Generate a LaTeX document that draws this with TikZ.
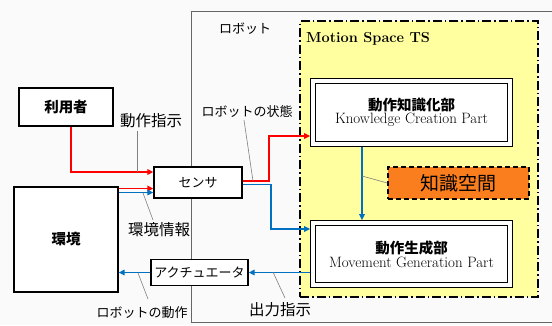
\documentclass[tikz,border=0pt]{standalone}
\usepackage{fontspec}
\newfontfamily\jp{Noto Sans CJK JP}
\usetikzlibrary{arrows.meta}
\definecolor{rd}{RGB}{255,0,0}
\definecolor{bl}{RGB}{0,112,192}
\definecolor{ylw}{RGB}{255,255,160}
\definecolor{org}{RGB}{250,125,30}
\definecolor{bg}{RGB}{250,250,250}
\begin{document}
\begin{tikzpicture}[x=1pt,y=-1pt,
 box/.style={draw=black,line width=1.3pt,fill=white,inner sep=0pt},
 dbox/.style={draw=black,line width=1.3pt,double=white,double distance=3.6pt,fill=white,inner sep=0pt,outer sep=3.1pt,align=center},
 lbl/.style={font=\jp\fontsize{13}{15}\selectfont,inner sep=0pt},
 klbl/.style={font=\jp\fontsize{15.5}{17}\selectfont,inner sep=0pt},
 ann/.style={draw=gray,line width=0.6pt},
 rarr/.style={draw=rd,line width=1.8pt,-{Triangle[length=6pt,width=5.5pt]}},
 barr/.style={draw=bl,line width=1.8pt,-{Triangle[length=6pt,width=5.5pt]}},
 jtitle/.style={font=\jp\bfseries\fontsize{14.5}{16}\selectfont},
]
\fill[bg] (0,0) rectangle (552,325);
\useasboundingbox (0,0) rectangle (552,325);
% robot region
\draw[gray!80!black,line width=0.8pt] (553,11) -- (191,11) -- (191,322) -- (553,322);
\node[lbl] (robotlbl) at (245,29) {ロボット};
% Motion space
\node[draw=black,fill=ylw,line width=1.4pt,dash pattern=on 9pt off 3pt on 1.5pt off 3pt,minimum width=238pt,minimum height=276pt,inner sep=0pt] (ms) at (419,159) {};
\node[anchor=west,inner sep=0pt,font=\bfseries\fontsize{14.5}{16}\selectfont] (mslbl) at (306,39) {Motion Space TS};
% parts
\node[dbox,minimum width=196.5pt,minimum height=62.5pt] (know) at (411.5,112.5)
  {{\jp\bfseries\fontsize{14.5}{16}\selectfont 動作知識化部}\\[1pt]{\fontsize{15}{16}\selectfont Knowledge Creation Part}};
\node[dbox,minimum width=196.5pt,minimum height=61.5pt] (move) at (411.5,254)
  {{\jp\bfseries\fontsize{14.5}{16}\selectfont 動作生成部}\\[1pt]{\fontsize{15}{16}\selectfont Movement Generation Part}};
\node[box,fill=org,dash pattern=on 5pt off 3pt,minimum width=141pt,minimum height=32pt,font=\jp\fontsize{19}{21}\selectfont] (kspace) at (458.5,183) {知識空間};
% left boxes
\node[box,minimum width=94pt,minimum height=38pt,jtitle] (user) at (66,107) {利用者};
\node[box,minimum width=104pt,minimum height=105pt,jtitle] (env) at (66,239.5) {環境};
\node[box,minimum width=88pt,minimum height=31pt,font=\jp\fontsize{13}{15}\selectfont] (sensor) at (198,182.5) {センサ};
\node[box,minimum width=97pt,minimum height=26pt,font=\jp\fontsize{13}{15}\selectfont] (act) at (199.5,272.5) {アクチュエータ};
% labels
\node[klbl] (inst) at (151,121) {動作指示};
\node[lbl] (rstate) at (247,112) {ロボットの状態};
\node[klbl] (envinfo) at (159,230) {環境情報};
\node[lbl] (ract) at (142,313) {ロボットの動作};
\node[klbl] (outinst) at (280,310) {出力指示};
% arrows
\draw[rarr] ([xshift=5pt]user.south) |- ([yshift=10.5pt]sensor.west);
\coordinate (e1) at ([yshift=51pt]env.east);
\coordinate (e2) at ([yshift=47pt]env.east);
\draw[rarr] (e1) -- (e1 -| sensor.west);
\draw[barr] (e2) -- (e2 -| sensor.west);
\coordinate (s1) at ([yshift=1.5pt]sensor.east);
\coordinate (s2) at ([yshift=-2pt]sensor.east);
\draw[rarr] (s1) -- ++(26,0) |- ([yshift=-23.5pt]know.west);
\draw[barr] (s2) -- ++(28,0) |- ([yshift=25pt]move.west);
\draw[barr] ([xshift=-49.5pt]know.south) -- ([xshift=-49.5pt]move.north);
\draw[barr] (move.west |- act.east) -- (act.east);
\draw[barr] (act.west) -- (act.west -| env.east);
% annotation lines
\coordinate (a1) at (137,172);
\draw[ann] (a1) -- (137,131);
\coordinate (a2) at (253,181);
\draw[ann] (a2) -- (244,120);
\coordinate (a3) at (143,193);
\draw[ann] (a3) -- (153,220);
\coordinate (a4) at (138,273);
\draw[ann] (a4) -- (148,299);
\coordinate (a5) at (273,272);
\draw[ann] (a5) -- (285,298);
\coordinate (a6) at (362,176);
\draw[ann] (a6) -- (kspace.west);
\end{tikzpicture}
\end{document}
